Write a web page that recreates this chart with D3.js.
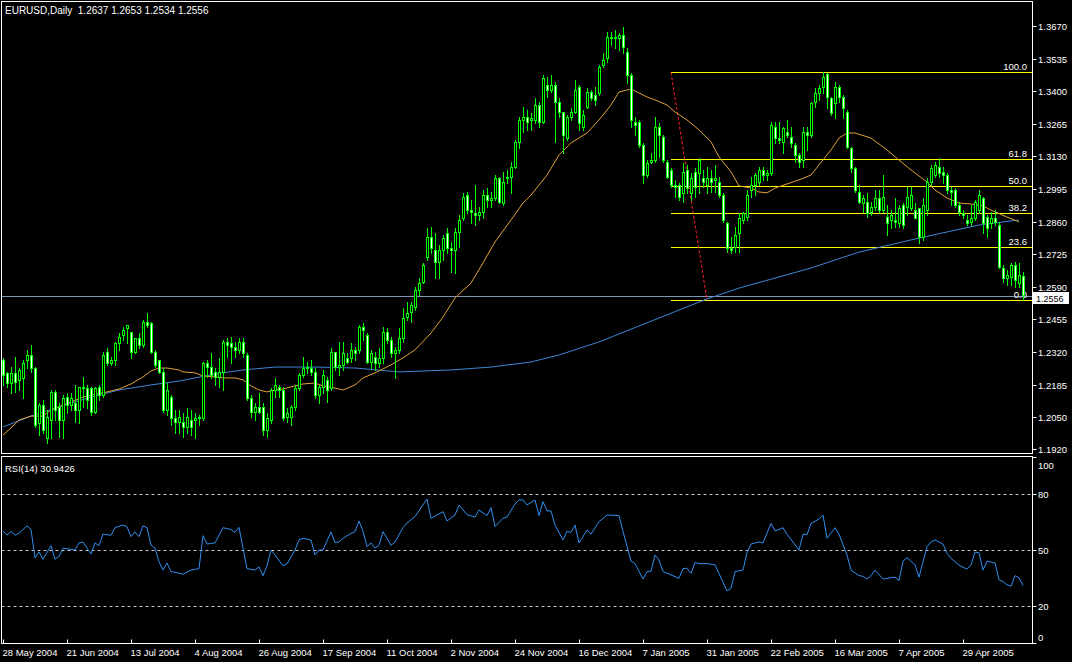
<!DOCTYPE html>
<html><head><meta charset="utf-8">
<script src="https://cdn.jsdelivr.net/npm/d3@7"></script>
<style>html,body{margin:0;padding:0;background:#000;overflow:hidden}svg{display:block}text{font-family:"Liberation Sans",Arial,sans-serif;font-size:9.5px;fill:#fff;white-space:pre}</style>
</head><body>
<svg id="c" width="1072" height="662"></svg>
<script>
const symbolTitle = "EURUSD,Daily";
const dateLabels = ["28 May 2004","21 Jun 2004","13 Jul 2004","4 Aug 2004","26 Aug 2004","17 Sep 2004","11 Oct 2004","2 Nov 2004","24 Nov 2004","16 Dec 2004","7 Jan 2005","31 Jan 2005","22 Feb 2005","16 Mar 2005","7 Apr 2005","29 Apr 2005"];
const dateLabelBars = [0,16,32,48,64,80,96,112,128,144,160,176,192,208,224,240];
const priceTicks = [1.3670,1.3535,1.3400,1.3265,1.3130,1.2995,1.2860,1.2725,1.2590,1.2455,1.2320,1.2185,1.2050,1.1920];
const rsiLevels = [80,50,20];
const rsiTicks = [100,80,50,20,0];
const rsiLast = 30.9426;
const fibLevels = [0,23.6,38.2,50,61.8,100];
const fibHigh = 1.3478, fibLow = 1.2534, fibStartBar = 167, fibEndBar = 176;

// daily bars: [open, high, low, close]
const ohlc = [
// 0
[1.2287,1.2296,1.2184,1.2225],[1.2234,1.2238,1.2176,1.2192],[1.2192,1.2258,1.2151,1.2234],[1.2234,1.2300,1.2155,1.2196],[1.2205,1.2254,1.2163,1.2246],[1.2213,1.2287,1.2130,1.2275],[1.2287,1.2329,1.2254,1.2308],[1.2308,1.2349,1.2238,1.2254],
// 8
[1.2254,1.2258,1.2010,1.2018],[1.2026,1.2109,1.1977,1.2101],[1.2101,1.2122,1.1985,1.1998],[1.1964,1.2080,1.1944,1.2051],[1.2039,1.2163,1.1964,1.2155],[1.2155,1.2163,1.2039,1.2080],[1.2093,1.2109,1.1969,1.2039],[1.2039,1.2142,1.1964,1.2130],
// 16
[1.2134,1.2151,1.2068,1.2101],[1.2101,1.2151,1.2080,1.2130],[1.2109,1.2184,1.2031,1.2080],[1.2080,1.2176,1.2026,1.2176],[1.2176,1.2217,1.2093,1.2171],[1.2171,1.2184,1.2089,1.2122],[1.2171,1.2176,1.2060,1.2072],[1.2072,1.2176,1.2068,1.2171],
// 24
[1.2176,1.2184,1.2122,1.2142],[1.2142,1.2320,1.2134,1.2308],[1.2320,1.2337,1.2267,1.2275],[1.2275,1.2300,1.2267,1.2287],[1.2287,1.2362,1.2267,1.2358],[1.2358,1.2399,1.2329,1.2383],[1.2391,1.2424,1.2370,1.2412],[1.2420,1.2432,1.2358,1.2432],
// 32
[1.2403,1.2403,1.2296,1.2320],[1.2320,1.2378,1.2316,1.2378],[1.2378,1.2399,1.2337,1.2349],[1.2349,1.2453,1.2341,1.2445],[1.2445,1.2482,1.2424,1.2432],[1.2440,1.2445,1.2316,1.2320],[1.2320,1.2329,1.2258,1.2267],[1.2287,1.2287,1.2234,1.2238],
// 40
[1.2238,1.2254,1.2072,1.2080],[1.2080,1.2192,1.2060,1.2163],[1.2134,1.2142,1.2018,1.2047],[1.2047,1.2080,1.1985,1.2031],[1.2031,1.2080,1.1985,1.2051],[1.2031,1.2068,1.1969,1.2010],[1.2010,1.2089,1.1985,1.2051],[1.2039,1.2080,1.1977,1.2010],
// 48
[1.2039,1.2068,1.1964,1.2047],[1.2047,1.2060,1.2018,1.2051],[1.2047,1.2279,1.2039,1.2275],[1.2275,1.2287,1.2217,1.2258],[1.2258,1.2316,1.2213,1.2225],[1.2238,1.2254,1.2184,1.2217],[1.2217,1.2296,1.2176,1.2238],[1.2238,1.2370,1.2163,1.2362],
// 56
[1.2362,1.2378,1.2300,1.2349],[1.2358,1.2383,1.2275,1.2341],[1.2341,1.2362,1.2300,1.2329],[1.2329,1.2378,1.2316,1.2362],[1.2362,1.2378,1.2300,1.2316],[1.2308,1.2316,1.2122,1.2130],[1.2130,1.2142,1.2051,1.2072],[1.2072,1.2109,1.2039,1.2093],
// 64
[1.2093,1.2151,1.2068,1.2072],[1.2093,1.2109,1.1977,1.1998],[1.1998,1.2068,1.1969,1.2047],[1.2039,1.2171,1.2026,1.2163],[1.2163,1.2213,1.2134,1.2184],[1.2176,1.2184,1.2134,1.2163],[1.2163,1.2176,1.2039,1.2047],[1.2051,1.2089,1.2031,1.2068],
// 72
[1.2051,1.2101,1.2018,1.2093],[1.2093,1.2184,1.2080,1.2171],[1.2171,1.2234,1.2163,1.2225],[1.2225,1.2300,1.2217,1.2254],[1.2254,1.2279,1.2234,1.2258],[1.2254,1.2287,1.2225,1.2238],[1.2238,1.2254,1.2130,1.2142],[1.2142,1.2184,1.2109,1.2176],
// 80
[1.2176,1.2246,1.2151,1.2225],[1.2205,1.2217,1.2113,1.2163],[1.2171,1.2337,1.2163,1.2320],[1.2320,1.2320,1.2246,1.2258],[1.2258,1.2362,1.2225,1.2267],[1.2267,1.2362,1.2246,1.2316],[1.2296,1.2316,1.2275,1.2279],[1.2296,1.2358,1.2279,1.2329],
// 88
[1.2329,1.2341,1.2287,1.2316],[1.2329,1.2432,1.2316,1.2424],[1.2424,1.2440,1.2370,1.2412],[1.2391,1.2399,1.2275,1.2279],[1.2279,1.2329,1.2254,1.2316],[1.2300,1.2320,1.2246,1.2275],[1.2275,1.2337,1.2258,1.2296],[1.2296,1.2424,1.2275,1.2403],
// 96
[1.2403,1.2420,1.2358,1.2370],[1.2370,1.2383,1.2300,1.2316],[1.2316,1.2341,1.2213,1.2329],[1.2329,1.2420,1.2316,1.2378],[1.2378,1.2503,1.2362,1.2461],[1.2465,1.2527,1.2453,1.2482],[1.2486,1.2527,1.2445,1.2515],[1.2507,1.2590,1.2494,1.2577],
// 104
[1.2577,1.2627,1.2556,1.2606],[1.2610,1.2689,1.2606,1.2681],[1.2714,1.2834,1.2701,1.2797],[1.2797,1.2838,1.2730,1.2751],[1.2743,1.2813,1.2627,1.2693],[1.2693,1.2763,1.2627,1.2743],[1.2743,1.2805,1.2701,1.2792],[1.2813,1.2834,1.2730,1.2751],
// 112
[1.2751,1.2776,1.2652,1.2743],[1.2743,1.2834,1.2647,1.2817],[1.2817,1.2888,1.2755,1.2867],[1.2875,1.2979,1.2867,1.2962],[1.2970,1.2983,1.2896,1.2908],[1.2908,1.2950,1.2854,1.2900],[1.2896,1.3012,1.2846,1.2888],[1.2888,1.2921,1.2867,1.2900],
// 120
[1.2900,1.2991,1.2875,1.2970],[1.2970,1.2999,1.2921,1.2950],[1.2950,1.2983,1.2921,1.2958],[1.2958,1.3053,1.2950,1.3041],[1.3041,1.3045,1.2937,1.2941],[1.2937,1.3066,1.2929,1.3024],[1.3041,1.3074,1.3020,1.3045],[1.3045,1.3107,1.2979,1.3086],
// 128
[1.3086,1.3198,1.3082,1.3190],[1.3190,1.3293,1.3165,1.3281],[1.3281,1.3335,1.3231,1.3293],[1.3293,1.3322,1.3240,1.3273],[1.3281,1.3310,1.3240,1.3289],[1.3281,1.3372,1.3268,1.3343],[1.3343,1.3355,1.3252,1.3273],[1.3273,1.3467,1.3268,1.3455],
// 136
[1.3426,1.3459,1.3376,1.3405],[1.3405,1.3467,1.3397,1.3426],[1.3426,1.3438,1.3190,1.3355],[1.3355,1.3372,1.3293,1.3314],[1.3314,1.3314,1.3144,1.3219],[1.3206,1.3302,1.3198,1.3293],[1.3293,1.3331,1.3281,1.3314],[1.3314,1.3447,1.3310,1.3405],
// 144
[1.3418,1.3426,1.3240,1.3268],[1.3252,1.3322,1.3240,1.3302],[1.3335,1.3413,1.3331,1.3397],[1.3397,1.3405,1.3364,1.3372],[1.3384,1.3418,1.3343,1.3364],[1.3393,1.3509,1.3384,1.3500],[1.3509,1.3558,1.3500,1.3529],[1.3538,1.3645,1.3521,1.3625],
// 152
[1.3625,1.3645,1.3591,1.3620],[1.3620,1.3653,1.3579,1.3625],[1.3620,1.3641,1.3571,1.3633],[1.3633,1.3667,1.3558,1.3583],[1.3562,1.3579,1.3434,1.3467],[1.3467,1.3475,1.3252,1.3281],[1.3273,1.3293,1.3219,1.3260],[1.3273,1.3281,1.3169,1.3177],
// 160
[1.3177,1.3186,1.3020,1.3053],[1.3053,1.3115,1.3045,1.3103],[1.3107,1.3144,1.3103,1.3115],[1.3115,1.3293,1.3107,1.3252],[1.3252,1.3268,1.3128,1.3219],[1.3211,1.3219,1.3107,1.3115],[1.3107,1.3115,1.3041,1.3045],[1.3074,1.3082,1.3004,1.3012],
// 168
[1.3012,1.3033,1.2962,1.3004],[1.3012,1.3020,1.2950,1.2962],[1.2979,1.3103,1.2941,1.3066],[1.3074,1.3095,1.2979,1.2999],[1.2979,1.3062,1.2950,1.3041],[1.3066,1.3082,1.2962,1.3004],[1.3062,1.3124,1.2979,1.3115],[1.3041,1.3074,1.3004,1.3024],
// 176
[1.3012,1.3086,1.2979,1.3041],[1.3041,1.3074,1.2983,1.3024],[1.3033,1.3095,1.2983,1.3041],[1.3024,1.3045,1.2962,1.2970],[1.2970,1.2979,1.2859,1.2867],[1.2854,1.2859,1.2734,1.2751],[1.2751,1.2797,1.2730,1.2743],[1.2755,1.2838,1.2734,1.2805],
// 184
[1.2813,1.2896,1.2734,1.2875],[1.2867,1.2900,1.2854,1.2896],[1.2879,1.2991,1.2867,1.2970],[1.2991,1.3045,1.2962,1.3012],[1.3012,1.3062,1.2970,1.3053],[1.3024,1.3086,1.3012,1.3074],[1.3074,1.3086,1.3033,1.3053],[1.3053,1.3074,1.3033,1.3062],
// 192
[1.3062,1.3273,1.3053,1.3260],[1.3252,1.3273,1.3186,1.3206],[1.3206,1.3273,1.3186,1.3198],[1.3190,1.3252,1.3144,1.3248],[1.3231,1.3281,1.3211,1.3219],[1.3211,1.3252,1.3169,1.3186],[1.3177,1.3186,1.3107,1.3136],[1.3136,1.3144,1.3086,1.3107],
// 200
[1.3115,1.3252,1.3086,1.3231],[1.3231,1.3252,1.3157,1.3219],[1.3219,1.3355,1.3211,1.3351],[1.3355,1.3413,1.3335,1.3393],[1.3393,1.3426,1.3364,1.3413],[1.3418,1.3478,1.3393,1.3459],[1.3470,1.3474,1.3331,1.3376],[1.3372,1.3376,1.3302,1.3310],
// 208
[1.3351,1.3438,1.3289,1.3418],[1.3418,1.3426,1.3355,1.3376],[1.3376,1.3384,1.3289,1.3331],[1.3314,1.3322,1.3165,1.3169],[1.3165,1.3169,1.3066,1.3082],[1.3082,1.3086,1.2983,1.2991],[1.2983,1.3012,1.2937,1.2941],[1.2937,1.2970,1.2900,1.2958],
// 216
[1.2941,1.2979,1.2879,1.2896],[1.2900,1.2941,1.2888,1.2921],[1.2921,1.2991,1.2908,1.2958],[1.2958,1.2991,1.2900,1.2908],[1.2908,1.3053,1.2900,1.2962],[1.2879,1.2929,1.2805,1.2854],[1.2867,1.2908,1.2834,1.2888],[1.2867,1.2958,1.2838,1.2859],
// 224
[1.2854,1.2929,1.2838,1.2917],[1.2929,1.2937,1.2834,1.2846],[1.2921,1.3004,1.2888,1.2962],[1.2917,1.3004,1.2908,1.2970],[1.2908,1.2937,1.2875,1.2875],[1.2917,1.2917,1.2772,1.2797],[1.2797,1.2958,1.2784,1.2929],[1.2908,1.3041,1.2888,1.3024],
// 232
[1.3024,1.3095,1.3012,1.3082],[1.3053,1.3107,1.3045,1.3095],[1.3086,1.3124,1.3045,1.3062],[1.3066,1.3086,1.3020,1.3053],[1.3053,1.3062,1.2979,1.2991],[1.2991,1.3004,1.2929,1.2983],[1.2991,1.2999,1.2921,1.2929],[1.2929,1.2941,1.2888,1.2900],
// 240
[1.2896,1.2908,1.2875,1.2888],[1.2867,1.2888,1.2846,1.2854],[1.2859,1.2929,1.2846,1.2875],[1.2875,1.2950,1.2867,1.2941],[1.2908,1.2991,1.2896,1.2970],[1.2958,1.2962,1.2813,1.2854],[1.2879,1.2888,1.2797,1.2834],[1.2854,1.2900,1.2834,1.2875],
// 248
[1.2875,1.2908,1.2846,1.2859],[1.2846,1.2859,1.2668,1.2672],[1.2668,1.2681,1.2610,1.2627],[1.2627,1.2660,1.2598,1.2639],[1.2631,1.2689,1.2598,1.2681],[1.2681,1.2693,1.2590,1.2619],[1.2606,1.2689,1.2590,1.2639],[1.2637,1.2653,1.2534,1.2556]
];

// moving averages: [bar index, value]
const maOrange = [[0,1.1977],[2,1.2006],[4,1.2039],[7,1.2055],[10,1.2055],[12,1.2080],[15,1.2101],[17,1.2113],[20,1.2134],[22,1.2142],[26,1.2155],[29,1.2167],[32,1.2188],[35,1.2217],[37,1.2242],[39,1.2254],[41,1.2254],[44,1.2246],[45,1.2238],[48,1.2234],[50,1.2221],[53,1.2217],[55,1.2213],[58,1.2213],[60,1.2205],[62,1.2180],[64,1.2163],[66,1.2155],[68,1.2163],[70,1.2167],[73,1.2180],[75,1.2188],[78,1.2192],[80,1.2180],[83,1.2171],[85,1.2163],[88,1.2184],[90,1.2213],[93,1.2234],[97,1.2267],[100,1.2296],[103,1.2329],[107,1.2399],[110,1.2465],[113,1.2544],[117,1.2606],[120,1.2689],[123,1.2776],[127,1.2867],[130,1.2937],[132,1.2970],[136,1.3053],[139,1.3136],[142,1.3186],[146,1.3227],[149,1.3281],[152,1.3343],[154,1.3397],[157,1.3409],[158,1.3401],[161,1.3376],[163,1.3364],[166,1.3343],[168,1.3314],[171,1.3281],[174,1.3240],[177,1.3190],[179,1.3128],[182,1.3066],[184,1.3008],[187,1.2999],[189,1.2983],[191,1.2979],[193,1.2999],[196,1.3016],[199,1.3033],[202,1.3053],[204,1.3095],[207,1.3157],[209,1.3206],[211,1.3227],[213,1.3227],[217,1.3206],[221,1.3157],[224,1.3115],[227,1.3074],[231,1.3024],[233,1.2991],[236,1.2958],[239,1.2937],[242,1.2933],[245,1.2925],[247,1.2908],[251,1.2879],[254,1.2859]];
const maBlue = [[0,1.2010],[7,1.2055],[14,1.2093],[22,1.2134],[29,1.2163],[37,1.2184],[44,1.2200],[53,1.2229],[60,1.2246],[68,1.2258],[78,1.2258],[88,1.2254],[99,1.2238],[112,1.2246],[122,1.2258],[132,1.2279],[139,1.2308],[149,1.2362],[159,1.2428],[169,1.2494],[176,1.2540],[184,1.2585],[194,1.2631],[202,1.2668],[214,1.2734],[229,1.2792],[244,1.2846],[254,1.2867]];
// RSI(14): [bar index, value]
const rsi = [[0,60.2],[1,58],[2,60],[3,58],[4,59],[6,63],[7,61],[8,45.7],[9,49],[10,45],[12,52.3],[13,45],[14,46.6],[15,51],[18,50],[19,53.8],[20,54.3],[22,47.8],[23,53.8],[24,52.3],[25,58.6],[27,57.9],[28,62],[30,63.4],[31,62.5],[32,57.2],[33,59.7],[34,57.2],[35,63],[36,62],[37,52.6],[38,51],[39,43.7],[40,39.2],[41,43],[42,38.4],[43,38],[45,37],[47,39.2],[49,40],[50,57.7],[51,53.2],[53,53.8],[55,62],[57,61],[58,59.5],[59,62.2],[60,51],[61,40],[63,39.2],[64,41],[65,36.2],[66,41.5],[67,50],[68,47.3],[70,41.5],[71,42.5],[73,50],[74,55.4],[75,56.3],[77,55.4],[78,47.3],[79,50],[80,50],[82,59.7],[83,54],[84,54.3],[85,56.3],[87,58.9],[88,59.9],[89,65.6],[90,60],[91,51.8],[92,53.8],[93,51],[94,52.5],[95,59.9],[96,56.3],[97,52.5],[98,54.3],[100,62],[101,64.5],[103,68],[106,77.4],[107,67],[110,70.6],[111,65.6],[113,68.8],[114,74.2],[116,69],[118,67.7],[119,71.5],[121,68.5],[122,72.8],[123,62.6],[125,67],[126,67.7],[128,74.7],[129,76.9],[130,76.9],[131,74.2],[133,76.9],[134,68.5],[135,76],[136,71],[137,71],[138,63.4],[140,55.4],[141,60],[142,59.5],[143,63.4],[144,53.8],[146,60.7],[147,58.5],[149,65.2],[151,68.8],[154,68.5],[155,60],[157,44],[158,42.7],[160,34.4],[161,38.4],[162,38.6],[163,47.3],[164,44.6],[165,38.4],[167,36.6],[169,34.8],[170,40],[171,40.2],[172,37.4],[173,43.3],[174,42.7],[176,42.7],[178,42],[179,37.4],[181,28],[182,29.4],[183,38.4],[185,39.2],[186,48.7],[187,53.2],[189,54.3],[190,53.8],[192,64.3],[193,60.2],[195,62],[196,58.5],[199,50],[200,58.5],[201,58.2],[202,64.3],[204,66.6],[205,68.8],[206,56.3],[208,62],[209,58.5],[211,47.3],[212,39.2],[214,36.2],[215,35.9],[216,34.4],[217,36.2],[218,39.2],[220,34.4],[222,35.1],[223,35.4],[224,33.6],[225,44],[226,45.9],[228,42],[229,35.4],[231,51.8],[232,54.3],[233,55.4],[235,53.2],[236,48.2],[237,45.5],[239,41.8],[241,39.7],[242,42],[243,48.9],[244,48.5],[245,39.2],[246,44],[247,43.5],[248,43],[249,34],[250,33],[251,31.2],[252,30.5],[253,36.2],[254,35.1],[255,30.94]];

const W = 1072, H = 662;
const L = 1.5, R = 1032.5, mainTop = 1.5, mainBot = 453.5, rsiTop = 456.5, rsiBot = 643.5;
const svg = d3.select("#c");
svg.append("rect").attr("width",W).attr("height",H).attr("fill","#000");

const x = d3.scaleLinear().domain([0, ohlc.length-1]).range([3, 3 + 4*(ohlc.length-1)]);
const y = d3.scaleLinear().domain([1.1920, 1.3670]).range([448.7, 26]);
const yr = d3.scaleLinear().domain([0, 100]).range([643, 457]);

const defs = svg.append("defs");
defs.append("clipPath").attr("id","clipMain").append("rect").attr("x",2).attr("y",2).attr("width",R-2).attr("height",mainBot-2);
defs.append("clipPath").attr("id","clipRsi").append("rect").attr("x",2).attr("y",rsiTop+0.5).attr("width",R-2).attr("height",rsiBot-rsiTop-1);

// ---- main panel
const gMain = svg.append("g").attr("clip-path","url(#clipMain)");

// bid line
const last = ohlc[ohlc.length-1];
const bidY = Math.round(y(last[3])) + 1.5;
gMain.append("line").attr("x1",L).attr("x2",R).attr("y1",bidY).attr("y2",bidY)
  .attr("stroke","#7f98b4").attr("stroke-width",1);

// fibonacci
const fibRange = fibHigh - fibLow;
const fx0 = x(fibStartBar);
fibLevels.forEach(lv => {
  const yy = Math.round(y(fibLow + fibRange*lv/100)) + 0.5;
  gMain.append("line").attr("x1",fx0).attr("x2",R).attr("y1",yy).attr("y2",yy).attr("stroke","#ffff00").attr("stroke-width",1);
  gMain.append("text").attr("x",1027).attr("y",yy-3).attr("text-anchor","end").text(lv.toFixed(1));
});
gMain.append("line").attr("x1",x(fibStartBar)).attr("y1",y(fibHigh)).attr("x2",x(fibEndBar)).attr("y2",y(fibLow))
  .attr("stroke","#ff2020").attr("stroke-width",1).attr("stroke-dasharray","3,2");

// moving averages
const lineP = d3.line().x(d => x(d[0])).y(d => y(d[1]));
gMain.append("path").attr("d",lineP(maBlue)).attr("fill","none").attr("stroke","#3f84d4").attr("stroke-width",1);
gMain.append("path").attr("d",lineP(maOrange)).attr("fill","none").attr("stroke","#e0a234").attr("stroke-width",1);

// candles
const gC = gMain.append("g");
ohlc.forEach((d,i) => {
  const [o,h,l,c] = d;
  const cx = Math.round(x(i));
  const yh = Math.round(y(h)), yl = Math.round(y(l));
  gC.append("rect").attr("x",cx).attr("y",yh).attr("width",1).attr("height",Math.max(1,yl-yh+1)).attr("fill","#00ff00");
  const yt = Math.round(y(Math.max(o,c))), yb = Math.round(y(Math.min(o,c)));
  const bh = Math.max(1, yb-yt+1);
  gC.append("rect").attr("x",cx-1).attr("y",yt).attr("width",3).attr("height",bh).attr("fill","#00ff00");
  if (bh >= 3) {
    gC.append("rect").attr("x",cx).attr("y",yt+1).attr("width",1).attr("height",bh-2)
      .attr("fill", c >= o ? "#000000" : "#ffffff");
  }
});

// header text
svg.append("text").attr("x",5).attr("y",14).style("font-size","10px")
  .text(`${symbolTitle}  ${last[0].toFixed(4)} ${last[1].toFixed(4)} ${last[2].toFixed(4)} ${last[3].toFixed(4)}`);

// ---- rsi panel
const gR = svg.append("g").attr("clip-path","url(#clipRsi)");
rsiLevels.forEach(v => {
  const yy = Math.round(yr(v)) + 0.5;
  gR.append("line").attr("x1",L).attr("x2",R).attr("y1",yy).attr("y2",yy)
    .attr("stroke","#c8c8c8").attr("stroke-width",1).attr("stroke-dasharray","3,3");
});
const lineR = d3.line().x(d => x(d[0])).y(d => yr(d[1]));
gR.append("path").attr("d",lineR(rsi)).attr("fill","none").attr("stroke","#2f8ff0").attr("stroke-width",1);
svg.append("text").attr("x",5).attr("y",472).text(`RSI(14) ${rsiLast.toFixed(4)}`);

// ---- frames
svg.append("rect").attr("x",L).attr("y",mainTop).attr("width",R-L).attr("height",mainBot-mainTop).attr("fill","none").attr("stroke","#fff").attr("stroke-width",1);
svg.append("rect").attr("x",L).attr("y",rsiTop).attr("width",R-L).attr("height",rsiBot-rsiTop).attr("fill","none").attr("stroke","#fff").attr("stroke-width",1);

// ---- price axis
priceTicks.forEach(p => {
  const yy = Math.round(y(p)) + 0.5;
  svg.append("line").attr("x1",R).attr("x2",R+4).attr("y1",yy).attr("y2",yy).attr("stroke","#fff");
  svg.append("text").attr("x",1038).attr("y",yy+3.5).text(p.toFixed(4));
});
// bid label
const by = Math.round(y(last[3]));
svg.append("rect").attr("x",1033).attr("y",by-3).attr("width",36).attr("height",12).attr("fill","#fff");
svg.append("text").attr("x",1036).attr("y",by+6.5).style("font-size","9px").style("fill","#000").text(last[3].toFixed(4));

// ---- rsi axis
rsiTicks.forEach(v => {
  const yy = Math.round(yr(v)) + 0.5;
  svg.append("line").attr("x1",R).attr("x2",R+4).attr("y1",yy).attr("y2",yy).attr("stroke","#fff");
  let ty = yy + 3.5;
  if (v === 100) ty = yy + 11;
  if (v === 0) ty = yy - 3;
  svg.append("text").attr("x",1038).attr("y",ty).text(String(v));
});

// ---- date axis
dateLabelBars.forEach((b,k) => {
  const xx = Math.round(x(b)) + 0.5;
  svg.append("line").attr("x1",xx).attr("x2",xx).attr("y1",rsiBot-4).attr("y2",rsiBot).attr("stroke","#fff");
  svg.append("text").attr("x",xx-1).attr("y",656).text(dateLabels[k]);
});
</script>
</body></html>
